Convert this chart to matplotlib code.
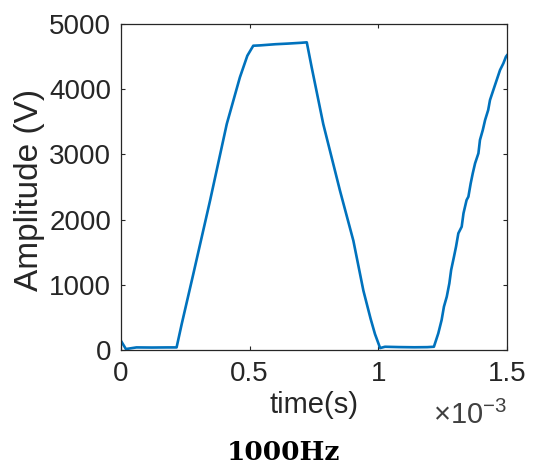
import numpy as np
import matplotlib
matplotlib.use('Agg')
import matplotlib.pyplot as plt
from matplotlib.ticker import FuncFormatter

plt.rcParams['font.family'] = ['Liberation Sans', 'DejaVu Sans']
plt.rcParams['mathtext.fontset'] = 'custom'
plt.rcParams['mathtext.rm'] = 'Liberation Sans'
plt.rcParams['mathtext.it'] = 'Liberation Sans'

# 波形データ (時間は ms で読み取り、秒に換算)
t_ms = [0.000, 0.019, 0.060, 0.120, 0.180, 0.216,
        0.236, 0.281, 0.346, 0.411, 0.462, 0.491, 0.514,
        0.540, 0.600, 0.650, 0.700, 0.722,
        0.741, 0.786, 0.851, 0.903, 0.942, 0.970, 0.987, 1.007,
        1.026, 1.080, 1.140, 1.190, 1.216,
        1.233, 1.246, 1.255, 1.266, 1.276, 1.283, 1.294, 1.302,
        1.311, 1.324, 1.331, 1.343, 1.350, 1.359, 1.367, 1.376,
        1.389, 1.395, 1.406, 1.415, 1.427, 1.434, 1.447, 1.460,
        1.473, 1.486, 1.496, 1.500]
volt = [140, 15, 40, 38, 40, 40,
        400, 1166, 2290, 3466, 4182, 4514, 4667,
        4672, 4690, 4700, 4712, 4719,
        4336, 3466, 2444, 1677, 910, 480, 245, 30,
        50, 45, 42, 44, 50,
        255, 460, 665, 818, 1022, 1227, 1431, 1585,
        1790, 1891, 2097, 2300, 2351, 2556, 2710, 2863,
        3017, 3221, 3374, 3528, 3681, 3834, 3988, 4141,
        4294, 4397, 4499, 4520]

t = np.array(t_ms) * 1e-3
v = np.array(volt)

xticks = [0, 0.5e-3, 1.0e-3, 1.5e-3]
yticks = [0, 1000, 2000, 3000, 4000, 5000]

fig = plt.figure(figsize=(5.34, 4.68), dpi=100)
ax = fig.add_axes([0.2266, 0.2521, 0.7228, 0.6966])

ax.plot(t, v, color='#0072BD', linewidth=1.9, solid_joinstyle='round')

ax.set_xlim(0, 1.5e-3)
ax.set_ylim(0, 5000)
ax.set_xticks(xticks)
ax.set_yticks(yticks)
ax.xaxis.set_major_formatter(FuncFormatter(lambda x, p: '%g' % round(x * 1e3, 3)))

gray = '#262626'
for s in ax.spines.values():
    s.set_color(gray)
    s.set_linewidth(0.9)
ax.tick_params(direction='in', length=3, width=0.8, colors=gray,
               labelsize=20, top=True, right=True, pad=7)
ax.tick_params(axis='x', pad=8)

ax.set_xlabel('time(s)', fontsize=21, color=gray, va='center')
ax.xaxis.set_label_coords(0.5, -0.17)
ax.set_ylabel('Amplitude (V)', fontsize=24, color=gray, va='center')
ax.yaxis.set_label_coords(-0.238, 0.49)

ax.text(1.0, -0.2, r'$\times10^{-3}$', transform=ax.transAxes,
        ha='right', va='center', fontsize=21, color='#404040')

fig.text(283 / 534, 1 - 452 / 468, '1000Hz', ha='center', va='center',
         fontsize=19, fontweight='bold', family='DejaVu Serif')

plt.savefig('out.png', dpi=100)
